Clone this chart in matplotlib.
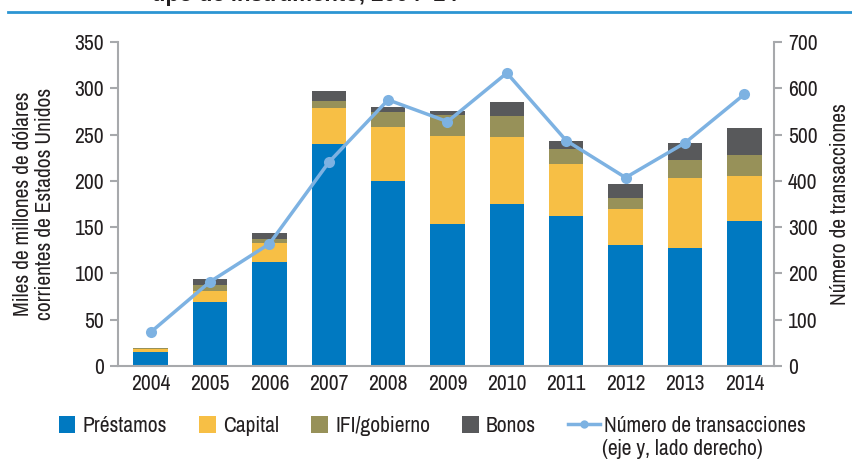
import numpy as np
import matplotlib.pyplot as plt
from matplotlib import font_manager as fm
from matplotlib.patches import Patch
from matplotlib.lines import Line2D

# fuente estrecha si existe; si no, Liberation Sans algo más pequeña
disponibles = {f.name for f in fm.fontManager.ttflist}
if 'Archivo Narrow' in disponibles:
    plt.rcParams['font.family'] = ['Archivo Narrow', 'DejaVu Sans']
    fs = 15.5
else:
    plt.rcParams['font.family'] = ['Liberation Sans', 'DejaVu Sans']
    fs = 12.5

# --- datos (miles de millones de USD y número de transacciones) ---
anios = ['2004', '2005', '2006', '2007', '2008', '2009', '2010', '2011', '2012', '2013', '2014']
prestamos = [15, 69.5, 112.5, 240, 200, 153.5, 175, 162, 130.5, 127.5, 156.5]
capital = [3, 12, 20.5, 39, 58, 95, 72.5, 56, 39, 75.5, 48.5]
ifi_gobierno = [1, 6.5, 4, 7.5, 16, 22.5, 22.5, 16.5, 12, 19.5, 22.5]
bonos = [0.5, 6, 7, 10.5, 5.5, 4.5, 15, 8.5, 15, 18.5, 30]
transacciones = [73, 182, 264, 440, 575, 528, 633, 487, 407, 482, 587]

series = [
    ("Préstamos", prestamos, "#0079C1"),
    ("Capital", capital, "#F7BF45"),
    ("IFI/gobierno", ifi_gobierno, "#979159"),
    ("Bonos", bonos, "#58595B"),
]
color_linea = "#7DB2E2"
gris_eje = "#A7A9AC"
texto = "#231F20"

fig = plt.figure(figsize=(8.52, 4.59), dpi=100)
ax = fig.add_axes([118 / 852, 1 - 366 / 459, (774 - 118) / 852, (366 - 42) / 459])
ax2 = ax.twinx()

x = np.arange(len(anios))
base = np.zeros(len(anios))
for nombre, vals, col in series:
    ax.bar(x, vals, width=0.58, bottom=base, color=col, zorder=2)
    base += np.array(vals)

ax2.plot(x, transacciones, color=color_linea, lw=2.5, marker='o', ms=8,
         markeredgewidth=0, zorder=3)

ax.set_xlim(-0.55, 10.5)
ax.set_ylim(0, 350)
ax2.set_ylim(0, 700)
ax.set_yticks(np.arange(0, 351, 50))
ax2.set_yticks(np.arange(0, 701, 100))
ax.set_xticks(x)
ax.set_xticklabels(anios)

for a in (ax, ax2):
    for s in a.spines.values():
        s.set_visible(False)
    a.tick_params(labelsize=fs, labelcolor=texto, colors=gris_eje, width=1.5, length=6)
ax.spines['left'].set_visible(True)
ax.spines['bottom'].set_visible(True)
ax2.spines['right'].set_visible(True)
for s in (ax.spines['left'], ax.spines['bottom'], ax2.spines['right']):
    s.set_color(gris_eje)
    s.set_linewidth(1.5)
ax.tick_params(axis='x', length=0, pad=6)
ax.tick_params(axis='y', pad=4)
ax2.tick_params(axis='y', pad=4)

ax.set_ylabel("Miles de millones de dólares\ncorrientes de Estados Unidos",
              fontsize=fs, color=texto, labelpad=14, linespacing=1.1)
ax2.set_ylabel("Número de transacciones", fontsize=fs, color=texto, labelpad=9)

# título recortado y filete azul superior
fig.text(152 / 852, 1 - 1 / 459, "tipo de instrumento, 2004–14", fontsize=16,
         fontweight='bold', color=texto, va='baseline', ha='left',
         family=['Liberation Sans', 'DejaVu Sans'])
fig.add_artist(Line2D([8 / 852, 1], [1 - 12 / 459, 1 - 12 / 459], color="#2C95D3",
                      lw=2, transform=fig.transFigure))

# leyenda
y_ley = 1 - 426 / 459
handles = [Patch(facecolor=col, edgecolor='none', label=nombre) for nombre, _, col in series]
fig.legend(handles=handles, loc='center left', bbox_to_anchor=(59 / 852, y_ley),
           ncol=4, frameon=False, fontsize=fs, handlelength=0.75, handleheight=0.8,
           handletextpad=0.35, columnspacing=1.5, labelcolor=texto,
           borderpad=0, borderaxespad=0)
linea = Line2D([], [], color=color_linea, lw=2.5, marker='o', ms=6, markeredgewidth=0)
fig.legend(handles=[linea], labels=["Número de transacciones"],
           loc='center left', bbox_to_anchor=(568 / 852, y_ley), frameon=False,
           fontsize=fs, handlelength=1.5, handletextpad=0.15, labelcolor=texto,
           borderpad=0, borderaxespad=0)
fig.text(602 / 852, 1 - 449 / 459, "(eje y, lado derecho)", fontsize=fs, color=texto,
         va='center', ha='left')

fig.savefig("out.png", dpi=100)
